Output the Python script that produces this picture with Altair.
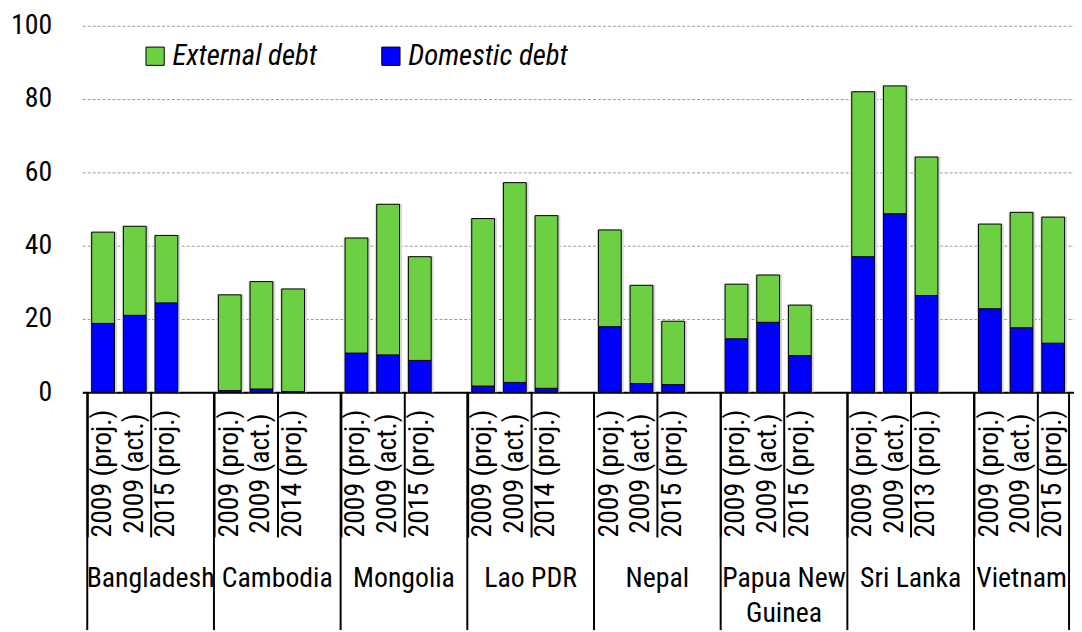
import altair as alt
import pandas as pd

# ---- data ----
countries = ["Bangladesh", "Cambodia", "Mongolia", "Lao PDR", "Nepal",
             "Papua New\nGuinea", "Sri Lanka", "Vietnam"]
periods = [
    ["2009 (proj.)", "2009 (act.)", "2015 (proj.)"],
    ["2009 (proj.)", "2009 (act.)", "2014 (proj.)"],
    ["2009 (proj.)", "2009 (act.)", "2015 (proj.)"],
    ["2009 (proj.)", "2009 (act.)", "2014 (proj.)"],
    ["2009 (proj.)", "2009 (act.)", "2015 (proj.)"],
    ["2009 (proj.)", "2009 (act.)", "2015 (proj.)"],
    ["2009 (proj.)", "2009 (act.)", "2013 (proj.)"],
    ["2009 (proj.)", "2009 (act.)", "2015 (proj.)"],
]
domestic = [
    [18.8, 21.0, 24.4],
    [0.5, 0.9, 0.2],
    [10.7, 10.2, 8.7],
    [1.7, 2.7, 1.1],
    [17.9, 2.4, 2.1],
    [14.6, 19.1, 10.0],
    [37.0, 48.7, 26.4],
    [22.8, 17.6, 13.4],
]
external = [
    [24.9, 24.3, 18.4],
    [26.1, 29.3, 28.0],
    [31.4, 41.1, 28.3],
    [45.7, 54.5, 47.1],
    [26.4, 26.8, 17.3],
    [14.9, 12.9, 13.8],
    [45.0, 34.9, 37.8],
    [23.1, 31.5, 34.4],
]
series_names = ["External debt", "Domestic debt"]
series_colors = ["#6dcf42", "#0000ff"]
y_ticks = [0, 20, 40, 60, 80, 100]

FONT = "Roboto Condensed"
FS = 28
W, H = 1001, 370

# ---- build tables ----
bar_rows, total_rows, label_rows, group_rows, bound_rows = [], [], [], [], []
slot = 0
for gi, c in enumerate(countries):
    start = slot
    bound_rows.append({"bx": start})
    for j, p in enumerate(periods[gi]):
        xc = slot + 0.5
        d = domestic[gi][j]
        e = external[gi][j]
        bar_rows.append({"xc": xc, "series": "Domestic debt", "y0": 0.0, "y1": d})
        bar_rows.append({"xc": xc, "series": "External debt", "y0": d, "y1": d + e})
        total_rows.append({"xc": xc, "t": d + e})
        label_rows.append({"xc": xc, "label": p})
        slot += 1
    if gi < len(countries) - 1:
        slot += 1
    group_rows.append({"gc": (start + slot) / 2, "name": c})
bound_rows.append({"bx": slot})

bars_df = pd.DataFrame(bar_rows)
totals_df = pd.DataFrame(total_rows)
labels_df = pd.DataFrame(label_rows)
groups_df = pd.DataFrame(group_rows)
bounds_df = pd.DataFrame(bound_rows)

xscale = alt.Scale(domain=[0, slot], nice=False, zero=False)
yscale = alt.Scale(domain=[0, 100], nice=False)

shadow = alt.Chart(totals_df).mark_bar(size=27, color="#d9d9d9", xOffset=0.5, yOffset=-0.5).encode(
    x=alt.X("xc:Q", scale=xscale,
            axis=alt.Axis(values=list(range(slot + 1)), labels=False, title=None,
                          grid=False, domain=True, domainColor="black", domainWidth=2,
                          ticks=True, tickColor="black", tickWidth=2, tickSize=146)),
    y=alt.Y("t:Q", scale=yscale,
            axis=alt.Axis(values=y_ticks, title=None, domain=False, ticks=False,
                          grid=True, gridColor="#9a9a9a", gridDash=[3, 2], gridWidth=1,
                          labelFont=FONT, labelFontSize=FS, labelColor="black",
                          labelPadding=31)),
    y2=alt.datum(0),
)

bars = alt.Chart(bars_df).mark_bar(size=23, stroke="black", strokeWidth=1).encode(
    x=alt.X("xc:Q", scale=xscale),
    y=alt.Y("y0:Q", scale=yscale),
    y2="y1:Q",
    color=alt.Color("series:N",
                    scale=alt.Scale(domain=series_names, range=series_colors),
                    legend=alt.Legend(title=None, orient="none", direction="horizontal",
                                      legendX=59, legendY=16, symbolType="square",
                                      symbolSize=340, symbolStrokeColor="black",
                                      symbolStrokeWidth=1, labelFont=FONT,
                                      labelFontSize=29, labelFontStyle="italic",
                                      labelColor="black", labelLimit=400,
                                      labelOffset=3, columnPadding=60, padding=0)),
)

period_text = alt.Chart(labels_df).mark_text(
    angle=270, align="center", baseline="middle", font=FONT, fontSize=FS, color="black"
).encode(
    x=alt.X("xc:Q", scale=xscale),
    y=alt.value(H + 82),
    text="label:N",
)

group_text = alt.Chart(groups_df).mark_text(
    align="center", baseline="alphabetic", font=FONT, fontSize=FS, color="black",
    lineBreak="\n", lineHeight=36
).encode(
    x=alt.X("gc:Q", scale=xscale),
    y=alt.value(H + 196),
    text="name:N",
)

bounds = alt.Chart(bounds_df).mark_rule(color="black", strokeWidth=2).encode(
    x=alt.X("bx:Q", scale=xscale),
    y=alt.value(H),
    y2=alt.value(H + 240),
)

chart = alt.layer(shadow, bars, period_text, group_text, bounds).properties(
    width=W, height=H,
    padding={"left": 75, "top": 15, "right": 0, "bottom": 239},
    autosize=alt.AutoSizeParams(type="none"),
    background="white",
).configure_view(strokeWidth=0)

chart.save("out.html", embed_options={"renderer": "svg", "actions": False})
